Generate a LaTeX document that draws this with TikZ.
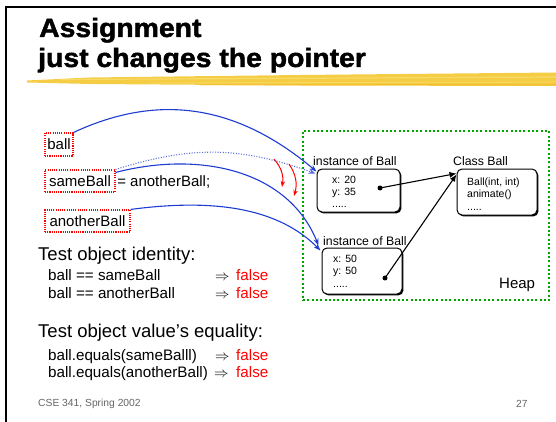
\documentclass[tikz,border=0pt]{standalone}
\usepackage{fontspec}
\setmainfont{Liberation Sans}
\newfontfamily\titlefont[FakeBold=1.6]{Liberation Sans Bold}
\usetikzlibrary{arrows.meta,shadows}
\newcommand\myfs[1]{\fontsize{#1}{#1}\selectfont}
\definecolor{hl}{RGB}{242,196,36}
\definecolor{hllight}{RGB}{250,222,110}
\definecolor{ptr}{RGB}{30,60,210}
\definecolor{heapgreen}{RGB}{0,165,0}
\definecolor{foot}{RGB}{100,100,100}
\begin{document}
\begin{tikzpicture}[x=1pt,y=-1pt,
  varbox/.style={draw=red, line width=1.1pt, dash pattern=on 1.1pt off 1.1pt, inner sep=0pt, font=\myfs{15}},
  objbox/.style={draw=black, line width=1pt, rounded corners=5pt, fill=white, inner sep=0pt,
     drop shadow={shadow xshift=1.4pt, shadow yshift=-1.4pt, fill=black, opacity=1}},
  lbl/.style={anchor=base west, inner sep=0pt, font=\myfs{12.3}},
  small/.style={anchor=base west, inner sep=0pt, font=\myfs{10.5}},
  body/.style={anchor=base west, inner sep=0pt, font=\myfs{15.2}},
  head/.style={anchor=base west, inner sep=0pt, font=\myfs{18.5}},
  ttl/.style={anchor=base west, inner sep=0pt, font=\myfs{26.5}\titlefont},
  ptrline/.style={draw=ptr, line width=1.1pt, -{Stealth[length=7pt,width=5pt]}},
  oldptr/.style={draw=ptr!75, line width=1.1pt, dash pattern=on 1pt off 1.6pt, -{Stealth[length=7pt,width=5pt]}},
  redarr/.style={draw=red, line width=1pt, -{Stealth[length=6pt,width=4.5pt]}},
  blkarr/.style={draw=black, line width=1.1pt, -{Latex[length=7pt,width=6pt]}},
  dotnode/.style={circle, fill=black, inner sep=0pt, minimum size=5pt},
  falsetxt/.style={anchor=base west, inner sep=0pt, font=\myfs{15.2}, text=red}
]
\useasboundingbox (0,0) rectangle (556,422);
% slide frame
\draw[line width=2.5pt] (5,7) -- (556,7);
\draw[line width=2.5pt] (6,7) -- (6,422);
% highlighter stroke
\fill[hl, opacity=0.85] (27,80.5) -- (90,77.5) -- (300,75) -- (556,72.5) -- (556,86) -- (300,85.5) -- (90,84) -- (27,82.5) -- cycle;
\draw[hllight, line width=1.2pt, opacity=0.8] (60,79.5) -- (556,77);
\draw[hllight, line width=0.8pt, opacity=0.7] (150,83) -- (556,82);
\draw[hl!80!orange, line width=1pt, opacity=0.6] (200,85) -- (556,84.5);
% title
\node[ttl] (t1) at (39,37) {\scalebox{1.07}[1]{Assignment}};
\node[ttl] (t2) at (38,67) {\scalebox{1.07}[1]{just changes the pointer}};

% heap
\node[draw=heapgreen, line width=2pt, dash pattern=on 2pt off 2.3pt, minimum width=246pt, minimum height=169pt, inner sep=0pt] (heap) at (426,215.5) {};
\node[anchor=base west, inner sep=0pt, font=\myfs{15}] (heaplbl) at (499,288) {Heap};

% objects
\node[objbox, minimum width=83pt, minimum height=43pt] (inst1) at (358.5,190.5) {};
\node[objbox, minimum width=80pt, minimum height=46pt] (cls) at (497,192) {};
\node[objbox, minimum width=80pt, minimum height=46pt] (inst2) at (362,271) {};
\node[lbl] (l1) at (313,165) {instance of Ball};
\node[lbl] (l2) at (453,165) {Class Ball};
\node[lbl] (l3) at (323,245) {instance of Ball};
\node[small] (a1) at (332,183) {x: 20};
\node[small] (a2) at (332,195) {y: 35};
\node[small] (a3) at (332,207) {.....};
\node[small] (c1) at (467,185) {Ball(int, int)};
\node[small] (c2) at (467,197) {animate()};
\node[small] (c3) at (467,210) {.....};
\node[small] (b1) at (333,262) {x: 50};
\node[small] (b2) at (333,274) {y: 50};
\node[small] (b3) at (333,287) {.....};
\node[dotnode] (d1) at (380,188) {};
\node[dotnode] (d2) at (385,278) {};
\draw[blkarr] (d1.center) -- ([yshift=-5pt]cls.north west);
\draw[blkarr] (d2.center) -- ([yshift=-6pt]cls.north west);

% variables
\node[varbox, minimum width=28pt, minimum height=23pt] (ball) at (59,144.5) {ball};
\node[varbox, minimum width=70pt, minimum height=22pt] (same) at (80,181) {sameBall};
\node[anchor=base west, inner sep=0pt, font=\myfs{15}] (assign) at ([xshift=1.5pt]same.base east) {= anotherBall;};
\node[varbox, minimum width=85pt, minimum height=22pt] (another) at (87.5,221) {anotherBall};

% pointers
\draw[ptrline] (ball.north east) .. controls +(90,-42) and +(-75,-63) .. ([yshift=-3pt]inst1.north west);
\draw[oldptr] (same.north east) .. controls +(77,-24) and +(-76,-27) .. ([xshift=-1pt,yshift=-5pt]inst1.north west);
\draw[ptrline] ([yshift=-3pt]same.north east) .. controls +(85,-22) and +(-30,-75) .. ([xshift=-3pt,yshift=2pt]inst2.north west);
\draw[ptrline] (another.north east) .. controls +(90,-12) and +(-40,-40) .. ([xshift=-1pt,yshift=-3pt]inst2.north west);

% red change arrows
\coordinate (r1s) at (274,159);
\coordinate (r1e) at (282,187);
\coordinate (r2s) at (289,164);
\coordinate (r2e) at (294,196);
\draw[redarr] (r1s) to[bend left=25] (r1e);
\draw[redarr] (r2s) to[bend left=25] (r2e);

% tests
\node[head] (h1) at (38,260) {Test object identity:};
\node[body] (e1) at (48,280) {ball == sameBall};
\node[body] (e2) at (48,298) {ball == anotherBall};
\node[body] (i1) at (215,280) {$\Rightarrow$};
\node[body] (i2) at (215,298) {$\Rightarrow$};
\node[falsetxt] (f1) at (236,280) {false};
\node[falsetxt] (f2) at (236,298) {false};
\node[head] (h2) at (38,337) {Test object value’s equality:};
\node[body] (e3) at (48,360) {ball.equals(sameBalll)};
\node[body] (e4) at (48,377) {ball.equals(anotherBall)};
\node[body] (i3) at (215,360) {$\Rightarrow$};
\node[body] (i4) at (214,377) {$\Rightarrow$};
\node[falsetxt] (f3) at (236,360) {false};
\node[falsetxt] (f4) at (236,377) {false};

% footer
\node[anchor=base west, inner sep=0pt, font=\myfs{10.3}, text=foot] (ft) at (38,406) {CSE 341, Spring 2002};
\node[anchor=base west, inner sep=0pt, font=\myfs{10.3}, text=foot] (pg) at (516,407) {27};
\end{tikzpicture}
\end{document}
